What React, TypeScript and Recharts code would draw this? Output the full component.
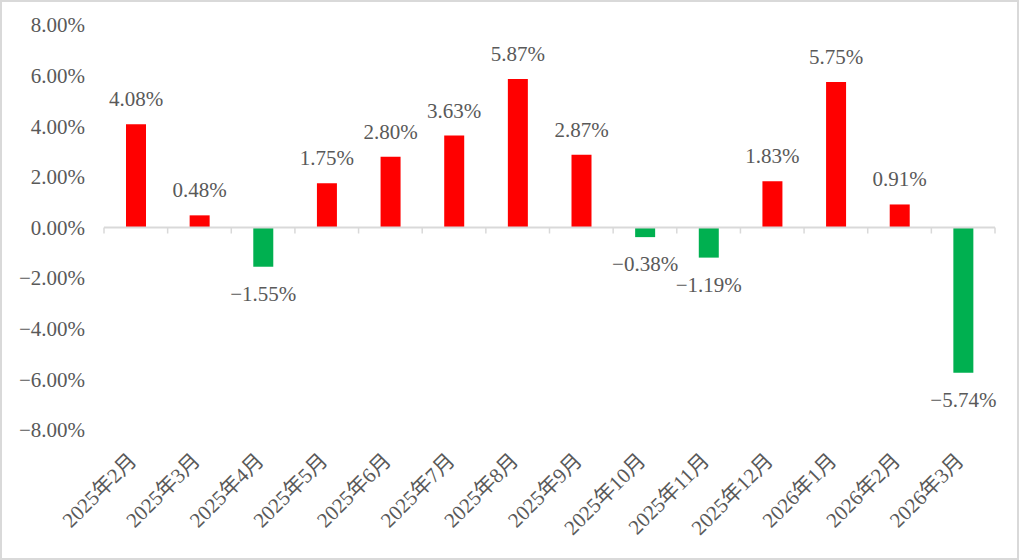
import { BarChart, Bar, XAxis, YAxis, ReferenceLine, LabelList, Cell } from "recharts";

const months = [
  "2025年2月",
  "2025年3月",
  "2025年4月",
  "2025年5月",
  "2025年6月",
  "2025年7月",
  "2025年8月",
  "2025年9月",
  "2025年10月",
  "2025年11月",
  "2025年12月",
  "2026年1月",
  "2026年2月",
  "2026年3月",
];
const returns = [4.08, 0.48, -1.55, 1.75, 2.8, 3.63, 5.87, 2.87, -0.38, -1.19, 1.83, 5.75, 0.91, -5.74];
const yTicks = [-8, -6, -4, -2, 0, 2, 4, 6, 8];

const data = months.map((month, i) => ({ month, value: returns[i] }));

const FONT = '"Liberation Serif", "Noto Sans CJK SC", serif';
const TEXT = "#595959";
const AXIS = "#d9d9d9";

const fmt = (v: number) => (v < 0 ? "\u2212" : "") + Math.abs(v).toFixed(2) + "%";

const MonthTick = (props: any) => {
  const { x, y, payload } = props;
  return (
    <text
      transform={`translate(${x + 2},${y + 32}) rotate(-45)`}
      textAnchor="end"
      fill={TEXT}
      fontSize={21}
      fontFamily={FONT}
    >
      {payload.value}
    </text>
  );
};

const PercentTick = (props: any) => {
  const { x, y, payload } = props;
  return (
    <text x={x} y={y} dy="0.35em" textAnchor="end" fill={TEXT} fontSize={21} fontFamily={FONT}>
      {fmt(payload.value)}
    </text>
  );
};

const ValueLabel = (props: any) => {
  const { x, y, width, height, value } = props;
  const top = Math.min(y, y + height);
  const bottom = Math.max(y, y + height);
  const ty = value >= 0 ? top - 18 : bottom + 34;
  return (
    <text x={x + width / 2} y={ty} textAnchor="middle" fill={TEXT} fontSize={21} fontFamily={FONT}>
      {fmt(value)}
    </text>
  );
};

// zero line with small tick marks at the category boundaries
const ZeroLine = (props: any) => {
  const { x1, x2, y1 } = props;
  const n = months.length;
  const step = (x2 - x1) / n;
  return (
    <g>
      <line x1={x1} x2={x2} y1={y1} y2={y1} stroke={AXIS} strokeWidth={2} />
      {Array.from({ length: n + 1 }, (_, i) => (
        <line key={i} x1={x1 + i * step} x2={x1 + i * step} y1={y1} y2={y1 + 6} stroke={AXIS} strokeWidth={1.5} />
      ))}
    </g>
  );
};

export default function App() {
  return (
    <div
      style={{
        position: "absolute",
        left: 0,
        top: 0,
        width: 1019,
        height: 560,
        boxSizing: "border-box",
        border: "2px solid #d9d9d9",
        background: "#fff",
      }}
    >
      <BarChart width={1015} height={556} data={data} margin={{ top: 23, right: 22, left: 18, bottom: 28 }}>
        <XAxis
          dataKey="month"
          interval={0}
          axisLine={false}
          tickLine={false}
          tickSize={0}
          tickMargin={0}
          height={100}
          tick={<MonthTick />}
        />
        <YAxis
          domain={[-8, 8]}
          ticks={yTicks}
          width={84}
          axisLine={false}
          tickLine={false}
          tickSize={0}
          tickMargin={19}
          tick={<PercentTick />}
        />
        <Bar dataKey="value" barSize={20} isAnimationActive={false}>
          {data.map((d, i) => (
            <Cell key={i} fill={d.value >= 0 ? "#ff0000" : "#00b050"} />
          ))}
          <LabelList dataKey="value" content={<ValueLabel />} />
        </Bar>
        <ReferenceLine y={0} shape={<ZeroLine />} />
      </BarChart>
    </div>
  );
}
